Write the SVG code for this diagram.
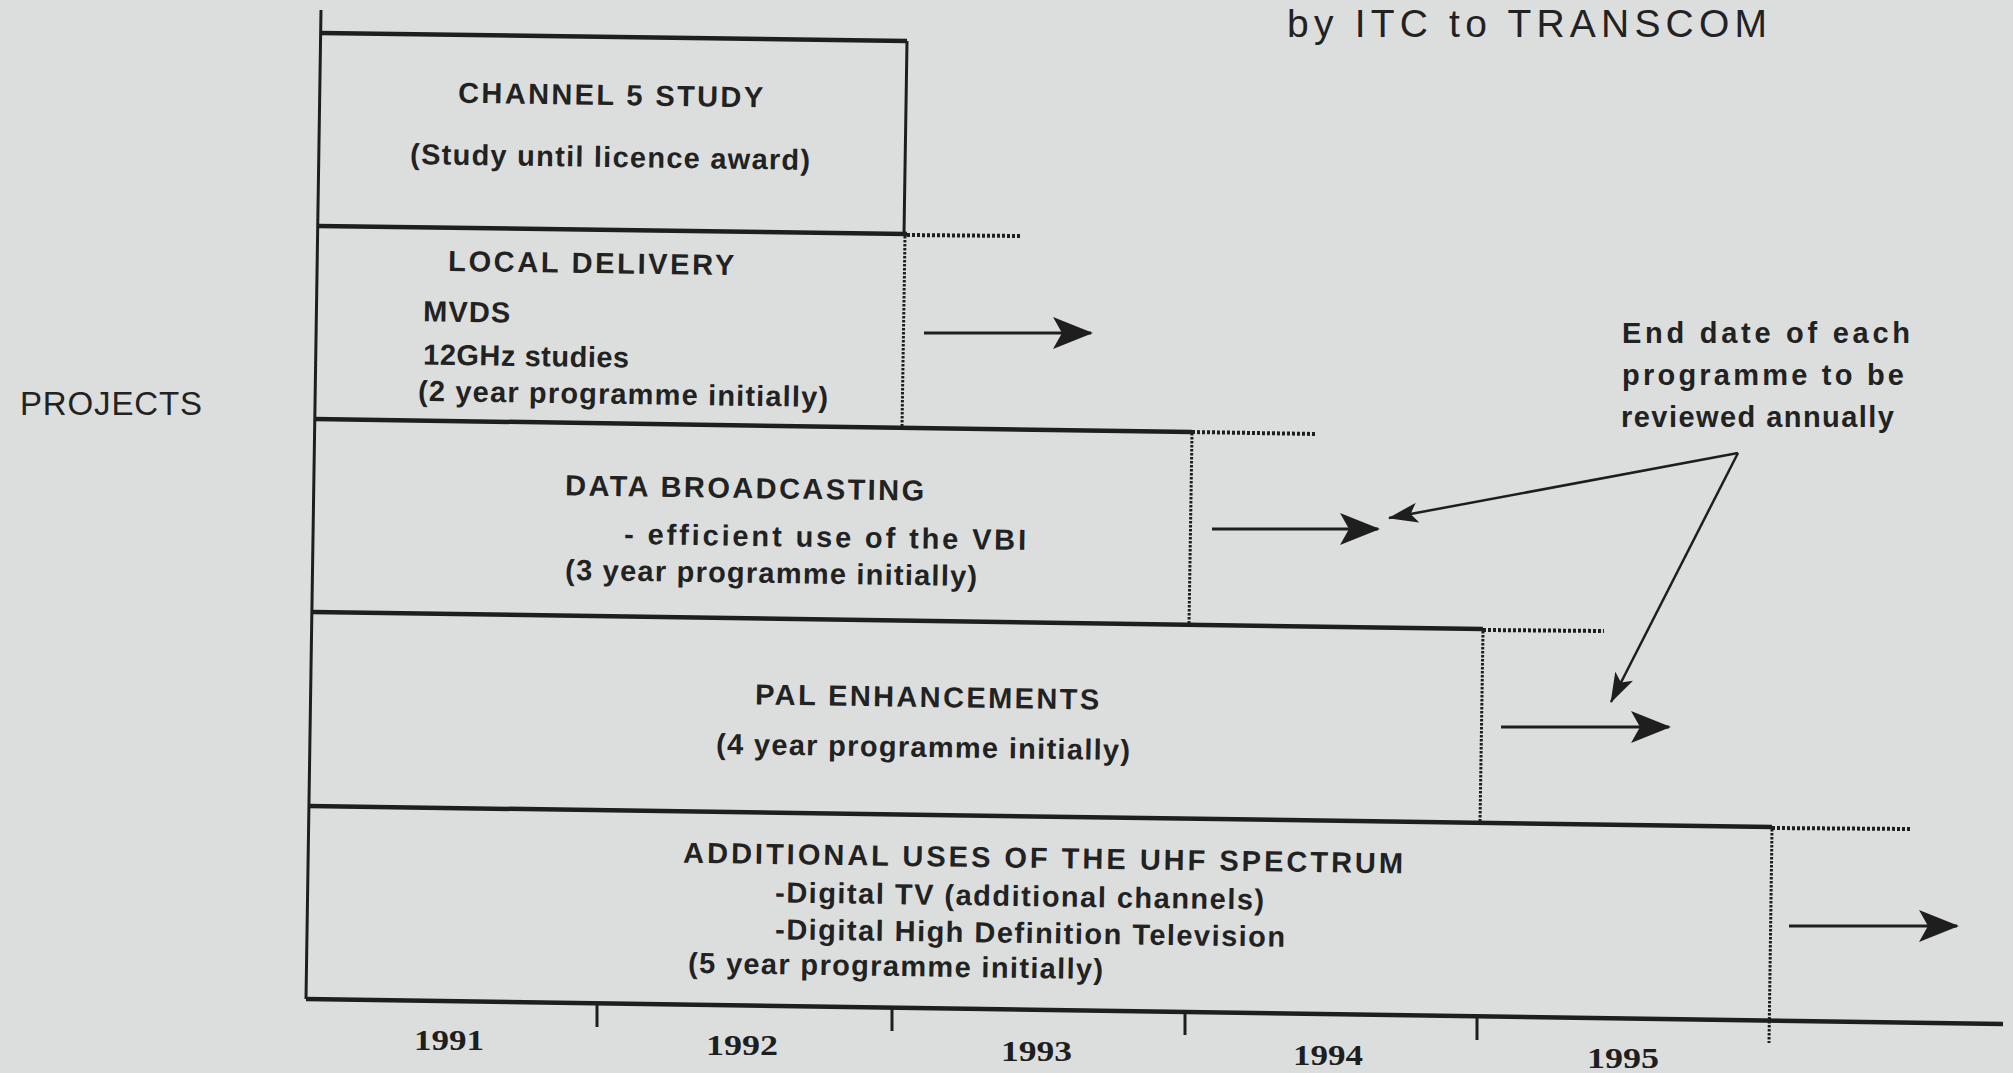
<svg xmlns="http://www.w3.org/2000/svg" width="2013" height="1073" viewBox="0 0 2013 1073">
<defs>
<marker id="bighead" viewBox="0 0 40 32" markerWidth="40" markerHeight="32" refX="38" refY="16" orient="auto" markerUnits="userSpaceOnUse"><path d="M0,0 L40,16 L0,32 L9,16 z" fill="#1e1e1e"/></marker>
<marker id="smallhead" viewBox="0 0 30 20" markerWidth="30" markerHeight="20" refX="29" refY="10" orient="auto" markerUnits="userSpaceOnUse"><path d="M0,0 L30,10 L0,20 L7,10 z" fill="#1e1e1e"/></marker>
<style>
.bg{fill:#dcdedd}
.solid{stroke:#1e1e1e;stroke-width:4.5;fill:none;stroke-linecap:butt}
.axis{stroke:#1e1e1e;stroke-width:3;fill:none}
.dotv{stroke:#1e1e1e;stroke-width:3;stroke-dasharray:2.5 1.5;fill:none}
.doth{stroke:#1e1e1e;stroke-width:4;stroke-dasharray:3 2;fill:none}
.tick{stroke:#1e1e1e;stroke-width:3;fill:none}
.arrow{stroke:#1e1e1e;stroke-width:3;fill:none;marker-end:url(#bighead)}
.note{stroke:#1e1e1e;stroke-width:2.5;fill:none;marker-end:url(#smallhead)}
.t{font-family:"Liberation Sans",Arial,sans-serif;font-size:29px;font-weight:bold;fill:#222}
.big{font-size:39px;font-weight:normal}
.proj{font-size:33px;font-weight:normal}
.yr{font-family:"Liberation Serif","Times New Roman",serif;font-size:30px;font-weight:bold;fill:#1e1e1e}
</style>
</defs>
<rect class="bg" x="0" y="0" width="2013" height="1073"/>

<g id="title">
<text class="t big" x="1287" y="37" textLength="480" lengthAdjust="spacing">by ITC to TRANSCOM</text>
</g>

<g id="projects-label">
<text class="t proj" x="20" y="415" textLength="182" lengthAdjust="spacing">PROJECTS</text>
</g>

<g id="axes">
<line class="axis" x1="321" y1="10" x2="306" y2="999"/>
<line class="solid" x1="306" y1="999" x2="2003" y2="1024"/>
<line class="tick" x1="597" y1="1003" x2="597" y2="1027"/>
<line class="tick" x1="892" y1="1008" x2="892" y2="1031"/>
<line class="tick" x1="1185" y1="1012" x2="1185" y2="1035"/>
<line class="tick" x1="1477" y1="1016" x2="1477" y2="1040"/>
<text class="yr" x="414" y="1050" textLength="70" lengthAdjust="spacingAndGlyphs">1991</text>
<text class="yr" x="706" y="1055" textLength="72" lengthAdjust="spacingAndGlyphs">1992</text>
<text class="yr" x="1001" y="1061" textLength="71" lengthAdjust="spacingAndGlyphs">1993</text>
<text class="yr" x="1293" y="1065" textLength="70" lengthAdjust="spacingAndGlyphs">1994</text>
<text class="yr" x="1587" y="1068" textLength="72" lengthAdjust="spacingAndGlyphs">1995</text>
</g>

<g id="channel5">
<line class="solid" x1="320" y1="33" x2="907" y2="41"/>
<line class="axis" x1="907" y1="41" x2="904" y2="234"/>
<text class="t" x="458" y="105" textLength="305" lengthAdjust="spacing" transform="rotate(0.85 610 105)">CHANNEL 5 STUDY</text>
<text class="t" x="410" y="167" textLength="400" lengthAdjust="spacing" transform="rotate(0.85 610 167)">(Study until licence award)</text>
</g>

<g id="local-delivery">
<line class="solid" x1="318" y1="226" x2="907" y2="234"/>
<line class="doth" x1="907" y1="235" x2="1020" y2="236"/>
<line class="dotv" x1="905" y1="236" x2="902" y2="427"/>
<text class="t" x="448" y="273" textLength="286" lengthAdjust="spacing" transform="rotate(0.85 591 273)">LOCAL DELIVERY</text>
<text class="t" x="423" y="322" textLength="87" lengthAdjust="spacing" transform="rotate(0.85 466 322)">MVDS</text>
<text class="t" x="423" y="366" textLength="206" lengthAdjust="spacing" transform="rotate(0.85 526 366)">12GHz studies</text>
<text class="t" x="418" y="404" textLength="410" lengthAdjust="spacing" transform="rotate(0.85 623 404)">(2 year programme initially)</text>
</g>

<g id="data-broadcasting">
<line class="solid" x1="315" y1="419" x2="1192" y2="432"/>
<line class="doth" x1="1192" y1="432" x2="1316" y2="434"/>
<line class="dotv" x1="1192" y1="433" x2="1189" y2="625"/>
<text class="t" x="565" y="498" textLength="359" lengthAdjust="spacing" transform="rotate(0.85 744 498)">DATA BROADCASTING</text>
<text class="t" x="624" y="547" textLength="402" lengthAdjust="spacing" transform="rotate(0.85 825 547)">- efficient use of the VBI</text>
<text class="t" x="565" y="583" textLength="412" lengthAdjust="spacing" transform="rotate(0.85 771 583)">(3 year programme initially)</text>
</g>

<g id="pal-enhancements">
<line class="solid" x1="312" y1="612" x2="1483" y2="629"/>
<line class="doth" x1="1483" y1="630" x2="1604" y2="631"/>
<line class="dotv" x1="1483" y1="631" x2="1480" y2="823"/>
<text class="t" x="755" y="707" textLength="344" lengthAdjust="spacing" transform="rotate(0.85 927 707)">PAL ENHANCEMENTS</text>
<text class="t" x="716" y="757" textLength="414" lengthAdjust="spacing" transform="rotate(0.85 923 757)">(4 year programme initially)</text>
</g>

<g id="uhf-spectrum">
<line class="solid" x1="309" y1="806" x2="1772" y2="827"/>
<line class="doth" x1="1772" y1="828" x2="1910" y2="829"/>
<line class="dotv" x1="1772" y1="829" x2="1769" y2="1043"/>
<text class="t" x="683" y="868" textLength="720" lengthAdjust="spacing" transform="rotate(0.85 1043 868)">ADDITIONAL USES OF THE UHF SPECTRUM</text>
<text class="t" x="775" y="906" textLength="489" lengthAdjust="spacing" transform="rotate(0.85 1019 906)">-Digital TV (additional channels)</text>
<text class="t" x="775" y="943" textLength="510" lengthAdjust="spacing" transform="rotate(0.85 1030 943)">-Digital High Definition Television</text>
<text class="t" x="688" y="976" textLength="415" lengthAdjust="spacing" transform="rotate(0.85 895 976)">(5 year programme initially)</text>
</g>

<g id="note">
<text class="t" x="1622" y="343" textLength="288" lengthAdjust="spacing">End date of each</text>
<text class="t" x="1622" y="385" textLength="282" lengthAdjust="spacing">programme to be</text>
<text class="t" x="1621" y="427" textLength="273" lengthAdjust="spacing">reviewed annually</text>
</g>

<g id="connectors">
<line class="arrow" x1="924" y1="333" x2="1091" y2="333"/>
<line class="arrow" x1="1212" y1="529" x2="1378" y2="529"/>
<line class="arrow" x1="1501" y1="727" x2="1669" y2="727"/>
<line class="arrow" x1="1789" y1="926" x2="1957" y2="926"/>
<line class="note" x1="1738" y1="453" x2="1389" y2="518"/>
<line class="note" x1="1738" y1="453" x2="1611" y2="702"/>
</g>
</svg>
